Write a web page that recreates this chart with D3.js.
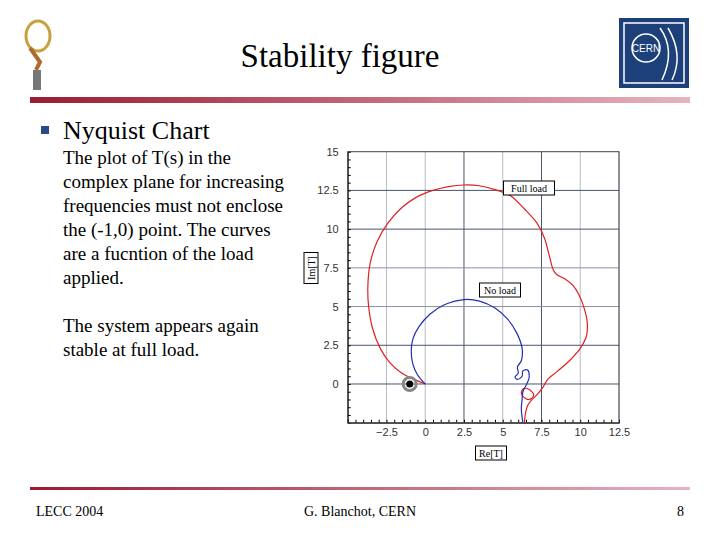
<!DOCTYPE html>
<html><head><meta charset="utf-8">
<script src="https://cdn.jsdelivr.net/npm/d3@7"></script>
<style>body{margin:0;background:#fff}</style>
</head><body>
<script>
// Nyquist curves (Re, Im)
const fullLoad = [[0,0],[-0.7,0.3],[-1.5,0.7],[-2.3,1.4],[-2.9,2.3],[-3.4,3.6],[-3.65,5],[-3.7,6.3],[-3.55,7.8],[-3.1,9.2],[-2.4,10.4],[-1.5,11.4],[-0.5,12.1],[0.5,12.5],[1.5,12.75],[2.5,12.85],[3.5,12.8],[4.5,12.55],[5.5,12.15],[6.4,11.3],[7.2,10.4],[7.7,9.4],[8.0,8.3],[8.25,7.4],[8.5,7.05],[9.0,6.8],[9.5,6.4],[9.9,5.8],[10.25,4.9],[10.45,4.0],[10.4,3.1],[10.0,2.3],[9.3,1.5],[8.5,0.8],[7.9,0.3],[7.6,-0.2],[7.2,-0.7],[6.8,-1.1],[6.6,-1.4],[6.45,-2.0],[6.4,-2.5]];
const fullLoop = [[6.9,-0.9],[7.0,-0.7],[6.7,-0.35],[6.35,-0.3],[6.2,-0.6],[6.5,-0.95],[6.7,-1.0],[6.9,-0.9]];
const noLoad = [[0,0],[-0.5,0.6],[-0.8,1.3],[-0.9,2.1],[-0.8,2.9],[-0.4,3.7],[0.3,4.5],[1.2,5.1],[2.5,5.45],[3.5,5.35],[4.5,4.9],[5.3,4.2],[5.9,3.3],[6.25,2.3],[6.2,1.5],[5.95,1.1],[6.0,0.7],[5.8,0.45],[5.95,0.3],[6.25,0.5],[6.3,0.85],[6.6,0.9],[6.7,0.4],[6.5,-0.1],[6.3,-0.5],[6.25,-1.0],[6.2,-1.6],[6.3,-2.5]];
const xTicks = [-2.5,0,2.5,5,7.5,10,12.5];
const yTicks = [0,2.5,5,7.5,10,12.5,15];
const bodyLines = ["The plot of T(s) in the","complex plane for increasing","frequencies must not enclose","the (-1,0) point. The curves","are a fucntion of the load","applied."];
const bodyLines2 = ["The system appears again","stable at full load."];

const svg = d3.select("body").append("svg").attr("width",720).attr("height",540)
  .attr("font-family","'Liberation Serif', serif");
const defs = svg.append("defs");
const g1 = defs.append("linearGradient").attr("id","bar");
g1.append("stop").attr("offset","0%").attr("stop-color","#9a1b30");
g1.append("stop").attr("offset","100%").attr("stop-color","#e6b3c0");

// header
svg.append("text").attr("x",340).attr("y",67).attr("text-anchor","middle").attr("font-size",33).text("Stability figure");
svg.append("rect").attr("x",30).attr("y",97).attr("width",660).attr("height",6).attr("fill","url(#bar)");
// left logo (rough)
const lg = svg.append("g");
lg.append("ellipse").attr("cx",38).attr("cy",36).attr("rx",12).attr("ry",15).attr("fill","none").attr("stroke","#c8a040").attr("stroke-width",3);
lg.append("path").attr("d","M30,48 L40,62 L36,70").attr("stroke","#b06a30").attr("stroke-width",4).attr("fill","none");
lg.append("rect").attr("x",33).attr("y",70).attr("width",8).attr("height",20).attr("fill","#777");
// CERN logo
svg.append("rect").attr("x",619).attr("y",18).attr("width",70).attr("height",70).attr("fill","#1d3f7a");
svg.append("rect").attr("x",624).attr("y",23).attr("width",60).attr("height",60).attr("fill","none").attr("stroke","#fff").attr("stroke-width",1.5);
svg.append("circle").attr("cx",646).attr("cy",48).attr("r",14).attr("fill","none").attr("stroke","#fff").attr("stroke-width",1.5);
svg.append("text").attr("x",646).attr("y",52).attr("text-anchor","middle").attr("fill","#fff").attr("font-size",10).attr("font-family","Liberation Sans").text("CERN");
svg.append("path").attr("d","M660,28 Q676,50 662,80 M668,28 Q684,55 672,80").attr("stroke","#fff").attr("fill","none").attr("stroke-width",1.5);

// body
svg.append("rect").attr("x",41).attr("y",126).attr("width",8).attr("height",8).attr("fill","#2a4a8a");
svg.append("text").attr("x",63).attr("y",139).attr("font-size",26).text("Nyquist Chart");
bodyLines.forEach((t,i)=>svg.append("text").attr("x",63).attr("y",164+i*24).attr("font-size",19).text(t));
bodyLines2.forEach((t,i)=>svg.append("text").attr("x",63).attr("y",332+i*24).attr("font-size",19).text(t));

// chart
const x = d3.scaleLinear().domain([-5,12.5]).range([347.7,619]);
const y = d3.scaleLinear().domain([-2.5,15]).range([422.7,151.7]);
const ch = svg.append("g");
xTicks.forEach(v=>ch.append("line").attr("x1",x(v)).attr("x2",x(v)).attr("y1",151.7).attr("y2",422.7)
  .attr("stroke",(v===2.5||v===7.5)?"#4a5470":"#b8bcc8").attr("stroke-width",1));
yTicks.filter(v=>v<15).forEach(v=>ch.append("line").attr("x1",347.7).attr("x2",619).attr("y1",y(v)).attr("y2",y(v))
  .attr("stroke",(v===7.5||v===5)?"#8a90a4":"#4a5470").attr("stroke-width",1));
ch.append("g").attr("transform","translate(347.7,0)").call(d3.axisLeft(y).tickValues(yTicks).tickSize(0).tickPadding(9).tickFormat(d3.format("")));
ch.append("g").attr("transform","translate(0,422.7)").call(d3.axisBottom(x).tickValues(xTicks).tickSize(0).tickPadding(6).tickFormat(d3.format("")));
// minor ticks
ch.append("g").attr("transform","translate(347.7,0)").call(d3.axisRight(y).ticks(35).tickSize(3).tickFormat(""));
ch.append("g").attr("transform","translate(0,422.7)").call(d3.axisTop(x).ticks(35).tickSize(3).tickFormat(""));
ch.selectAll(".domain").attr("stroke","#444");
ch.selectAll(".tick text").attr("font-family","Liberation Sans").attr("font-size",11).attr("fill","#333");
ch.append("rect").attr("x",347.7).attr("y",151.7).attr("width",271.3).attr("height",271).attr("fill","none").attr("stroke","#444");

const line = d3.line().x(d=>x(d[0])).y(d=>y(d[1])).curve(d3.curveCatmullRom);
ch.append("path").attr("d",line(fullLoad)).attr("fill","none").attr("stroke","#e02020").attr("stroke-width",1.2);
ch.append("path").attr("d",line(fullLoop)).attr("fill","none").attr("stroke","#e02020").attr("stroke-width",1.2);
ch.append("path").attr("d",line(noLoad)).attr("fill","none").attr("stroke","#2030b0").attr("stroke-width",1.2);
ch.append("circle").attr("cx",x(-1)).attr("cy",y(0)).attr("r",6.5).attr("fill","none").attr("stroke","#888").attr("stroke-width",3);
ch.append("circle").attr("cx",x(-1)).attr("cy",y(0)).attr("r",3.5).attr("fill","#000");

function box(cx,cy,t,rot){
  const gg=svg.append("g").attr("transform",`translate(${cx},${cy}) rotate(${rot||0})`);
  const w=t.length*5+6;
  gg.append("rect").attr("x",-w/2).attr("y",-7).attr("width",w).attr("height",14).attr("fill","#fff").attr("stroke","#000");
  gg.append("text").attr("y",4).attr("text-anchor","middle").attr("font-size",10).text(t);
}
box(529,188,"Full load");
box(500,290,"No load");
box(311,268,"Im[T]",-90);
box(491,453,"Re[T]");

// footer
svg.append("rect").attr("x",30).attr("y",487).attr("width",660).attr("height",3).attr("fill","url(#bar)");
svg.append("text").attr("x",36).attr("y",516).attr("font-size",14).text("LECC 2004");
svg.append("text").attr("x",360).attr("y",516).attr("text-anchor","middle").attr("font-size",14).text("G. Blanchot, CERN");
svg.append("text").attr("x",684).attr("y",516).attr("text-anchor","end").attr("font-size",14).text("8");
</script>
</body></html>
